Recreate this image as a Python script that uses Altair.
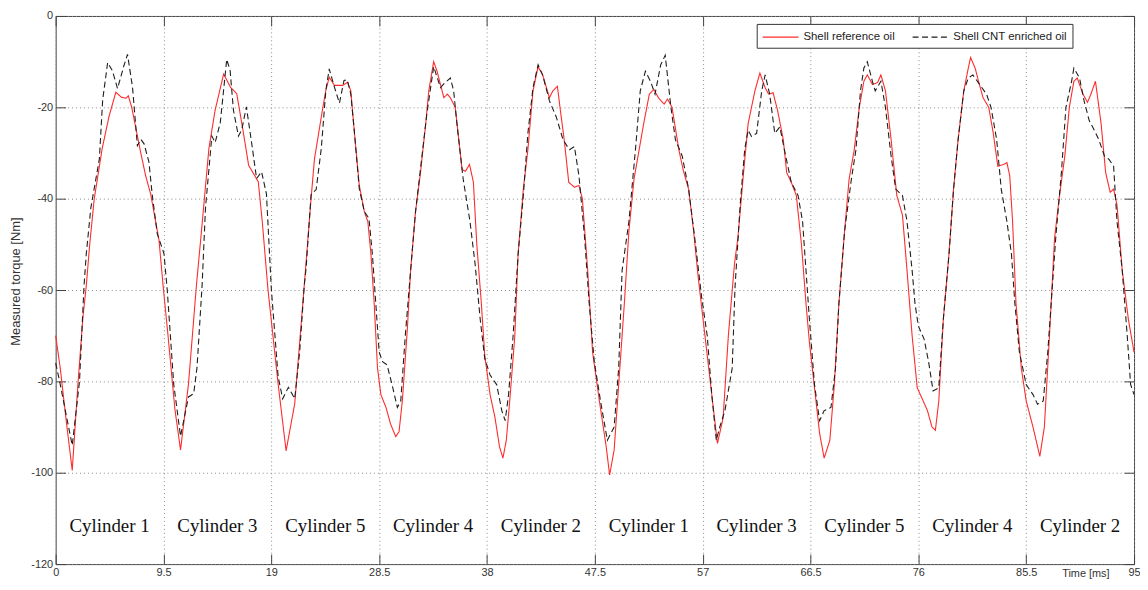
import altair as alt
import pandas as pd

# ---- data ----
time_ref = [0, 0.4, 0.9, 1.46, 1.95, 2.4, 2.7, 3.0, 3.4, 4.1, 4.7, 5.3, 5.8, 6.2, 6.4, 6.7, 7.5, 7.93, 8.37, 9.1, 9.5, 9.9, 10.5, 11.0, 11.7, 12.4, 12.9, 13.5, 14.05, 14.8, 15.4, 15.95, 16.5, 17.0, 17.85, 18.2, 18.7, 19.6, 20.3, 21.06, 21.9, 22.5, 22.8, 23.5, 23.8, 24.1, 24.56, 25.3, 25.7, 26.0, 26.3, 26.75, 27.2, 27.5, 27.77, 28.06, 28.35, 28.65, 29.1, 29.5, 29.96, 30.25, 30.54, 30.98, 31.27, 31.7, 32.14, 32.6, 32.87, 33.3, 33.6, 34.2, 34.5, 34.77, 35.2, 35.8, 36.1, 36.46, 36.8, 37.1, 37.5, 37.8, 38.27, 38.7, 39.1, 39.4, 39.7, 40.0, 40.45, 40.74, 41.2, 41.6, 42.05, 42.5, 42.9, 43.5, 43.8, 44.2, 44.5, 44.8, 45.2, 45.7, 46.1, 46.4, 46.87, 47.3, 47.9, 48.5, 48.8, 49.2, 49.6, 50.1, 50.5, 50.95, 51.4, 51.8, 52.3, 52.7, 53.1, 53.6, 53.9, 54.3, 54.9, 55.3, 55.76, 56.2, 56.6, 57.2, 57.8, 58.3, 58.8, 59.26, 59.8, 60.1, 60.6, 61.0, 61.6, 62.04, 62.5, 62.8, 63.2, 63.6, 64.1, 64.4, 64.8, 65.25, 65.7, 66.1, 66.4, 66.85, 67.3, 67.7, 68.2, 68.6, 69.0, 69.5, 69.9, 70.35, 70.8, 71.2, 71.5, 71.95, 72.4, 72.7, 73.1, 73.6, 74.1, 74.6, 75.0, 75.45, 75.9, 76.3, 76.8, 77.2, 77.5, 77.8, 78.2, 78.7, 79.1, 79.5, 80.0, 80.4, 80.6, 81.0, 81.3, 81.7, 82.2, 82.6, 83.0, 83.5, 83.8, 84.05, 84.3, 84.6, 85.07, 85.5, 86.1, 86.7, 87.1, 87.55, 88.0, 88.4, 88.9, 89.3, 89.7, 90.0, 90.5, 90.9, 91.2, 91.6, 92.1, 92.5, 92.9, 93.2, 93.5, 93.96, 94.5, 95.0]
torque_ref = [-70, -77, -88, -99.5, -81, -66, -59, -50, -40, -29, -22, -16.7, -17.8, -18, -17.5, -20, -30, -35, -39, -49, -60, -70, -86, -95, -80.6, -59, -45.6, -29, -20.6, -12.7, -15.6, -17, -25, -32.7, -36.3, -45, -59.8, -80.6, -95.2, -84.9, -59, -40, -31.3, -20.6, -16.3, -13.4, -15.2, -15.2, -14.5, -16.4, -25, -37.1, -42.9, -45, -52, -62.9, -77, -82.9, -85.7, -89.3, -92.1, -91, -84.3, -68.6, -55.7, -42.9, -34.3, -23.6, -16.4, -10, -12.1, -17.9, -17.1, -17.9, -20, -33.6, -34, -32.5, -36.4, -50, -62.9, -74.3, -82.9, -87.9, -94.3, -96.8, -92.9, -84.3, -70, -52.1, -37.9, -29.3, -16.4, -11.1, -12.9, -17.9, -16.4, -15.4, -21.4, -27.1, -36.4, -37.5, -37.1, -40, -55.7, -73.6, -84.3, -94.3, -100.5, -95, -80.7, -62.9, -47.1, -35.7, -29.3, -23.6, -17.1, -16.1, -17.9, -19.3, -18.2, -20, -29.3, -33.9, -37.9, -47.1, -57.1, -70, -82.9, -93.6, -88, -70, -54.3, -48.6, -34.3, -23.6, -16.4, -12.5, -15.7, -17.1, -16.8, -20.7, -27.1, -34.3, -36.4, -39.3, -50, -62.9, -71.4, -81.4, -91.4, -96.8, -92.9, -80.7, -62.9, -47.1, -35.7, -29.3, -20, -14.3, -12.9, -15, -14.6, -12.9, -16.4, -27.1, -39.3, -43.6, -55.7, -70, -81.4, -83.6, -86.4, -90, -90.7, -84.3, -66.4, -52.1, -37.9, -27.1, -16.4, -11.4, -9.1, -11.4, -14.3, -17.9, -20, -25.7, -32.9, -32.5, -32.1, -35, -45, -62.9, -77.1, -84.3, -90, -96.4, -90, -70, -48.6, -40, -30.7, -20, -14.3, -13.6, -17.1, -18.9, -17.1, -14.3, -23.6, -34.3, -38.6, -37.9, -41.4, -55.7, -66.4, -73.6]

time_cnt = [0, 0.35, 0.9, 1.46, 2.1, 2.5, 2.7, 3.1, 3.85, 4.14, 4.58, 5.0, 5.45, 6.0, 6.33, 6.77, 7.2, 7.5, 7.79, 8.22, 8.5, 8.95, 9.54, 9.83, 10.4, 11.0, 11.7, 12.16, 12.45, 12.9, 13.2, 13.76, 14.05, 14.5, 15.07, 15.37, 15.66, 16.1, 16.4, 16.8, 17.26, 17.7, 18.14, 18.57, 19.0, 19.6, 20.0, 20.5, 21.06, 21.5, 21.9, 22.07, 22.5, 22.95, 23.4, 23.8, 24.1, 24.56, 25.0, 25.4, 25.7, 26.0, 26.3, 26.75, 27.2, 27.6, 27.9, 28.2, 28.5, 28.8, 29.2, 29.7, 30.1, 30.4, 30.8, 31.27, 31.7, 32.7, 33.3, 33.9, 34.3, 34.77, 35.06, 35.35, 35.9, 36.5, 36.95, 37.4, 37.8, 38.27, 38.85, 39.3, 39.6, 39.9, 40.3, 40.74, 41.2, 41.6, 42.05, 42.5, 42.9, 43.5, 44.1, 44.7, 45.26, 45.7, 46.1, 46.6, 47.0, 47.45, 48.0, 48.6, 49.2, 49.6, 49.9, 50.5, 51.1, 51.5, 51.95, 52.4, 52.8, 53.3, 53.7, 54.2, 54.6, 55.2, 55.76, 56.3, 56.9, 57.4, 57.8, 58.2, 58.5, 58.96, 59.6, 59.85, 60.3, 60.7, 61.0, 61.3, 61.75, 62.2, 62.5, 62.9, 63.35, 63.8, 64.2, 64.8, 65.4, 65.8, 66.1, 66.4, 66.85, 67.3, 67.7, 68.3, 68.7, 69.0, 69.5, 70.1, 70.5, 70.9, 71.2, 71.5, 71.95, 72.2, 72.7, 73.1, 73.6, 74.0, 74.6, 75.0, 75.45, 75.7, 76.0, 76.5, 76.9, 77.3, 77.8, 78.2, 78.7, 79.1, 79.5, 80.0, 80.4, 80.8, 81.4, 82.0, 82.4, 82.9, 83.3, 83.8, 84.2, 84.5, 84.9, 85.5, 86.1, 86.5, 87.0, 87.4, 87.7, 88.1, 88.6, 89.0, 89.5, 89.7, 90.2, 90.6, 91.05, 91.5, 91.9, 92.4, 92.8, 93.2, 93.5, 93.96, 94.4, 94.7, 95.0]
torque_cnt = [-76, -80, -87, -94, -80, -59, -52, -42, -31.3, -18.4, -10.2, -12, -15.9, -11, -8.4, -15.6, -28.4, -27, -28, -32, -39, -47.7, -52, -60, -80.6, -92, -83.4, -82.7, -77, -59, -42, -26.3, -27.7, -23.4, -9.5, -12, -20.6, -26.3, -24.9, -19.9, -27.7, -35.6, -34.1, -39, -59.8, -79, -83.8, -81.3, -83.8, -73.4, -59, -55, -39.1, -38, -29, -16.3, -11.6, -15.6, -19.1, -14.1, -14, -17.1, -25, -37.9, -42.9, -44.3, -52.1, -62.9, -73.6, -75.7, -76.4, -81.4, -85.7, -84.3, -70, -55.7, -42.9, -21.4, -11.1, -15.7, -14.6, -13.6, -16.4, -23.6, -35.7, -45, -54.3, -66.4, -75, -78.6, -80.7, -86.4, -88.6, -82.9, -70, -52.1, -39.3, -25.7, -15.7, -10.7, -12.9, -18.6, -22.1, -27.1, -29.3, -28.6, -35, -48.6, -62.9, -75.7, -84.3, -92.9, -90, -77.1, -55.7, -45, -28.6, -16.4, -12.1, -14.3, -17.1, -10.7, -8.6, -20, -27.1, -30.7, -37.9, -48.6, -61.4, -70, -82.9, -92.9, -90, -86.4, -77.1, -59.3, -41.4, -29.3, -25, -26.4, -25.7, -16.4, -12.9, -17.1, -25.7, -24.3, -29.3, -36.4, -39.3, -45, -55.7, -66.4, -80.7, -88.6, -86.4, -85.7, -77.1, -62.9, -47.1, -35.7, -29.3, -16.4, -11.4, -10, -14.3, -16.4, -14.3, -20, -30.7, -37.9, -39.3, -45, -55.7, -62.9, -67.9, -70.7, -75.7, -82.1, -81.4, -66.4, -52.1, -37.9, -27.1, -16.4, -13.6, -12.9, -15, -17.1, -20, -27.1, -37.9, -45, -52.1, -62.9, -73.6, -80.7, -82.9, -85, -84.3, -73.6, -62.9, -48.6, -34.3, -20, -14.3, -11.4, -13.6, -18.6, -22.9, -25, -27.1, -30.7, -31.4, -32.9, -45, -55.7, -70, -80.7, -82.9]

series_names = ["Shell reference oil", "Shell CNT enriched oil"]
x_ticks = [0, 9.5, 19, 28.5, 38, 47.5, 57, 66.5, 76, 85.5, 95]
y_ticks = [0, -20, -40, -60, -80, -100, -120]
cylinder_names = ["Cylinder 1", "Cylinder 3", "Cylinder 5", "Cylinder 4", "Cylinder 2",
                  "Cylinder 1", "Cylinder 3", "Cylinder 5", "Cylinder 4", "Cylinder 2"]
cylinder_label_level = -113

# ---- tables ----
W, H = 1086, 552
TICK = 10
lines_df = pd.concat([
    pd.DataFrame({"t": time_ref, "y": torque_ref, "series": series_names[0], "k": 0}),
    pd.DataFrame({"t": time_cnt, "y": torque_cnt, "series": series_names[1], "k": 1}),
])
cyl_df = pd.DataFrame({
    "t": [(x_ticks[i] + x_ticks[i + 1]) / 2 for i in range(len(cylinder_names))],
    "y": [cylinder_label_level] * len(cylinder_names),
    "label": cylinder_names,
})

FONT = "Liberation Sans"
FRAME = "#444444"
XS = alt.Scale(domain=[0, 95], nice=False, zero=False)
YS = alt.Scale(domain=[-120, 0], nice=False, zero=False)

# bottom / left axes: labels, dotted grid, inward ticks (axis line pulled inside by TICK)
X = alt.X("t:Q", scale=XS,
          axis=alt.Axis(orient="bottom", offset=-TICK, values=x_ticks,
                        labelExpr="'' + datum.value", grid=True,
                        gridDash=[1, 3], gridColor="#8a8a8a", gridWidth=1,
                        ticks=True, tickSize=TICK, tickColor=FRAME, tickWidth=1,
                        domain=False,
                        labelFont=FONT, labelFontSize=11, labelColor="#333333",
                        labelPadding=2, labelFlush=False,
                        title="Time [ms]", titleFont=FONT, titleFontSize=11,
                        titleFontWeight="normal", titleColor="#333333",
                        titleX=1037, titleY=22, titleAlign="center",
                        titleBaseline="alphabetic"))
Y = alt.Y("y:Q", scale=YS,
          axis=alt.Axis(orient="left", offset=-TICK, values=y_ticks,
                        labelExpr="'' + datum.value", grid=True,
                        gridDash=[1, 3], gridColor="#8a8a8a", gridWidth=1,
                        ticks=True, tickSize=TICK, tickColor=FRAME, tickWidth=1,
                        domain=False, labelFont=FONT, labelFontSize=11,
                        labelColor="#333333", labelPadding=3, labelFlush=False,
                        title="Measured torque [Nm]", titleFont=FONT, titleFontSize=13,
                        titleFontWeight="normal", titleColor="#333333",
                        titleX=-50, titleY=267, titleAngle=-90,
                        titleAlign="center", titleBaseline="middle"))
# top / right axes: inward ticks only
XT = alt.X("t:Q", scale=XS,
           axis=alt.Axis(orient="top", offset=-TICK, values=x_ticks, labels=False,
                         grid=False, ticks=True, tickSize=TICK, tickColor=FRAME,
                         tickWidth=1, domain=False, title=None))
YR = alt.Y("y:Q", scale=YS,
           axis=alt.Axis(orient="right", offset=-TICK, values=y_ticks, labels=False,
                         grid=False, ticks=True, tickSize=TICK, tickColor=FRAME,
                         tickWidth=1, domain=False, title=None))

# legend line sample: 36 px long, compact row height
LEG = dict(title=None, symbolType="M-4.14,0L1,0", symbolSize=196, symbolOffset=22,
           symbolStrokeWidth=1.2, labelOffset=4)

lines = alt.Chart(lines_df).mark_line(strokeWidth=1.1).encode(
    x=X, y=Y,
    color=alt.Color("series:N",
                    scale=alt.Scale(domain=series_names, range=["#ff2b2b", "#1e1e1e"]),
                    legend=alt.Legend(**LEG)),
    strokeDash=alt.StrokeDash("series:N",
                              scale=alt.Scale(domain=series_names, range=[[1, 0], [6, 3.5]]),
                              legend=alt.Legend(**LEG)),
    order=alt.Order("k:Q"),
    detail="series:N",
)

cyl_text = alt.Chart(cyl_df).mark_text(
    font="Liberation Serif", fontSize=19, color="#111111",
    align="center", baseline="alphabetic").encode(x=XT, y=YR, text="label:N")

chart = alt.layer(
    lines, cyl_text
).resolve_axis(
    x="independent", y="independent"
).properties(
    width=W, height=H,
    autosize=alt.AutoSizeParams(type="none"),
    padding={"left": 48, "top": 6, "right": 6, "bottom": 14},
).configure_view(
    stroke=FRAME, strokeWidth=1
).configure_legend(
    orient="none", legendX=706, legendY=8, direction="horizontal",
    labelFont=FONT, labelFontSize=11.5, labelColor="#222222",
    columnPadding=14, padding=5, strokeColor="#333333", fillColor="white",
    cornerRadius=0,
)

chart.save("out.html", embed_options={"renderer": "svg", "actions": False})
